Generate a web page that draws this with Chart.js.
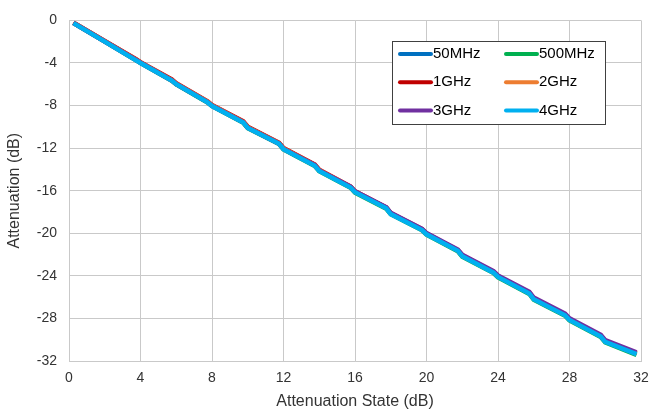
<!DOCTYPE html>
<html>
<head>
<meta charset="utf-8">
<script src="https://cdn.jsdelivr.net/npm/chart.js@4.4.1/dist/chart.umd.min.js"></script>
<style>
  html, body { margin: 0; padding: 0; background: #fff; }
  #wrap { width: 667px; height: 414px; }
</style>
</head>
<body>
<div id="wrap"><canvas id="attChart" width="667" height="414"></canvas></div>
<script>
// attenuation state (dB)
const states = [0.25, 2, 3.75, 4, 5.75, 6, 7.75, 8, 9.75, 10, 11.75, 12, 13.75, 14, 15.75, 16,
    17.75, 18, 19.75, 20, 21.75, 22, 23.75, 24, 25.75, 26, 27.75, 28, 29.75, 30, 31.75];

const seriesNames = ['50MHz', '500MHz', '1GHz', '2GHz', '3GHz', '4GHz'];
const seriesColors = ['#0070C0', '#00B050', '#C00000', '#ED7D31', '#7030A0', '#00B0F0'];

// measured attenuation (dB)
const att50M = [-0.22, -1.96, -3.7, -3.97, -5.6, -5.96, -7.66, -8.0, -9.55, -10.05, -11.55, -12.05, -13.6, -14.1, -15.65, -16.1,
    -17.6, -18.15, -19.65, -20.05, -21.6, -22.1, -23.65, -24.05, -25.6, -26.15, -27.65, -28.1, -29.65, -30.15, -31.3];
const att500M = [-0.25, -2.0, -3.75, -4.0, -5.68, -6.02, -7.72, -8.06, -9.62, -10.12, -11.62, -12.12, -13.68, -14.18, -15.72, -16.18,
    -17.7, -18.22, -19.72, -20.14, -21.7, -22.2, -23.74, -24.14, -25.7, -26.24, -27.74, -28.2, -29.74, -30.24, -31.42];
const att1G = [-0.21, -1.93, -3.65, -3.93, -5.55, -5.91, -7.6, -7.95, -9.49, -9.99, -11.49, -11.99, -13.55, -14.04, -15.6, -16.05,
    -17.58, -18.11, -19.61, -20.03, -21.59, -22.07, -23.63, -24.03, -25.59, -26.13, -27.63, -28.08, -29.63, -30.13, -31.26];
const att2G = [-0.22, -1.95, -3.68, -3.95, -5.6, -5.95, -7.64, -7.98, -9.54, -10.04, -11.54, -12.04, -13.6, -14.08, -15.64, -16.08,
    -17.6, -18.14, -19.64, -20.06, -21.6, -22.1, -23.64, -24.04, -25.6, -26.14, -27.64, -28.1, -29.64, -30.14, -31.3];
const att3G = [-0.24, -1.98, -3.72, -3.98, -5.64, -5.98, -7.68, -8.02, -9.58, -10.08, -11.58, -12.08, -13.6, -14.1, -15.62, -16.06,
    -17.55, -18.08, -19.58, -19.98, -21.52, -22.02, -23.56, -23.96, -25.5, -26.04, -27.54, -27.98, -29.54, -30.04, -31.18];
const att4G = [-0.25, -2.0, -3.75, -4.0, -5.65, -6.0, -7.7, -8.05, -9.6, -10.1, -11.6, -12.1, -13.65, -14.15, -15.7, -16.15,
    -17.65, -18.2, -19.7, -20.1, -21.65, -22.15, -23.7, -24.1, -25.65, -26.2, -27.7, -28.15, -29.7, -30.2, -31.35];

const allSeries = [att50M, att500M, att1G, att2G, att3G, att4G];

const FONT = "'Liberation Sans', Arial, sans-serif";
const GRID = '#c9c9c9';

// two-column boxed legend inside the plot
const boxLegend = {
    id: 'boxLegend',
    afterDraw(chart) {
        const ctx = chart.ctx;
        const x0 = 392, y0 = 41, w = 213, h = 83;
        ctx.save();
        ctx.fillStyle = '#fff';
        ctx.fillRect(x0, y0, w, h);
        ctx.strokeStyle = '#404040';
        ctx.lineWidth = 1;
        ctx.strokeRect(x0 + 0.5, y0 + 0.5, w, h);
        ctx.font = '15px ' + FONT;
        ctx.textBaseline = 'middle';
        ctx.fillStyle = '#000';
        chart.data.datasets.forEach((ds, i) => {
            const col = i % 2, row = Math.floor(i / 2);
            const lx = col === 0 ? 400 : 506;
            const ly = 54 + row * 28.3;
            ctx.strokeStyle = ds.borderColor;
            ctx.lineWidth = 4;
            ctx.lineCap = 'round';
            ctx.beginPath();
            ctx.moveTo(lx, ly);
            ctx.lineTo(lx + 31, ly);
            ctx.stroke();
            ctx.fillText(ds.label, lx + 33, ly);
        });
        ctx.restore();
    }
};

const datasets = seriesNames.map((name, i) => ({
    label: name,
    data: states.map((s, j) => ({ x: s, y: allSeries[i][j] })),
    borderColor: seriesColors[i],
    backgroundColor: seriesColors[i],
    borderWidth: 4.5,
    pointRadius: 0,
    tension: 0,
    fill: false,
    order: seriesNames.length - i
}));

new Chart(document.getElementById('attChart').getContext('2d'), {
    type: 'line',
    data: { datasets },
    options: {
        responsive: false,
        animation: false,
        layout: { padding: { top: 13, right: 26, bottom: 0, left: 0 } },
        plugins: { legend: { display: false }, tooltip: { enabled: false } },
        scales: {
            x: {
                type: 'linear',
                min: 0, max: 32,
                ticks: { stepSize: 4, padding: 9, color: '#333', font: { family: FONT, size: 14 } },
                grid: { color: GRID, drawTicks: false },
                border: { color: GRID },
                title: { display: true, text: 'Attenuation State (dB)', color: '#333', font: { family: FONT, size: 16 }, padding: { top: 0, bottom: 2.5 } },
                afterFit(scale) { scale.height = 53; }
            },
            y: {
                min: -32, max: 0,
                ticks: { stepSize: 4, padding: 12, color: '#333', font: { family: FONT, size: 14 } },
                grid: { color: GRID, drawTicks: false },
                border: { color: GRID },
                title: { display: true, text: 'Attenuation (dB)', color: '#333', font: { family: FONT, size: 16 }, padding: { top: 5, bottom: 0 } },
                afterFit(scale) { scale.width = 69; }
            }
        }
    },
    plugins: [boxLegend]
});
</script>
</body>
</html>
